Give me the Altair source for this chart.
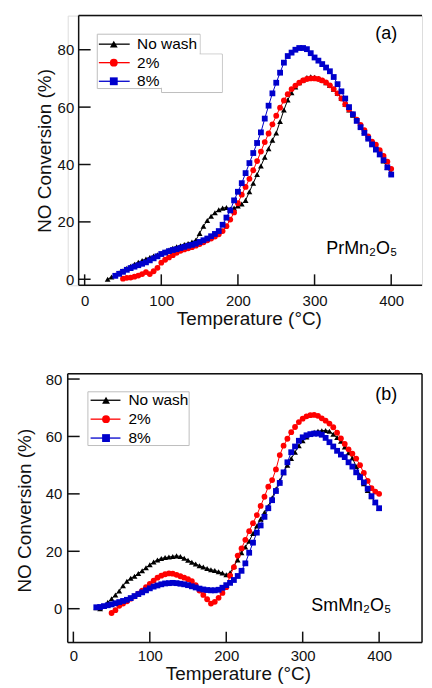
import altair as alt
import pandas as pd

FONT = "Liberation Sans"
SERIES = ["No wash", "2%", "8%"]
COLORS = ["#000000", "#ff0000", "#0000cc"]
SHAPES = ["triangle-up", "circle", "square"]
X_TICKS = [0, 100, 200, 300, 400]
Y_TICKS = [0, 20, 40, 60, 80]

T_GRID = [30, 35, 40, 45, 50, 55, 60, 65, 70, 75, 80, 85, 90, 95, 100, 105, 110, 115,
          120, 125, 130, 135, 140, 145, 150, 155, 160, 165, 170, 175, 180, 185, 190, 195,
          200, 205, 210, 215, 220, 225, 230, 235, 240, 245, 250, 255, 260, 265, 270, 275,
          280, 285, 290, 295, 300, 305, 310, 315, 320, 325, 330, 335, 340, 345, 350, 355,
          360, 365, 370, 375, 380, 385, 390, 395, 400]

# ---------- (a) PrMn2O5 ----------
a_nowash_T = T_GRID
a_nowash_V = [0, 0.8, 1.5, 2.3, 3, 3.8, 4.5, 5.2, 5.9, 6.5,
              7.1, 7.6, 8.1, 8.5, 9, 9.6, 10.2, 10.8, 11.3, 11.7,
              12.1, 12.5, 13, 13.6, 16, 18.5, 20.5, 22, 23.2, 24.2,
              24.8, 25, 24.5, 24.8, 25.5, 26.2, 27.5, 30.5, 33.5, 36.5,
              39.5, 42.5, 45.5, 48.5, 51, 55, 59, 62.5, 65, 67,
              68.5, 69.5, 70.3, 70.6, 70.4, 70, 69.4, 68.5, 67.5, 66.2,
              64.8, 63, 61, 59, 57.2, 55.5, 53.5, 51.5, 49.5, 47.5,
              45.5, 43.5, 41.2, 39, 37]
a_2pct_T = T_GRID[4:]
a_2pct_V = [0.2, 0.5, 0.6, 0.9, 1.3, 1.8, 2.5, 1.8, 2.8, 4,
            5.8, 6.8, 7.6, 8.4, 9.2, 9.9, 10.4, 10.8, 11.2, 11.7,
            12.3, 12.9, 13.6, 14.2, 14.9, 15.7, 16.8, 18.5, 20.8, 23.3,
            26.5, 29.5, 32.2, 35, 38, 41.2, 44.5, 47.8, 50.8, 54,
            57, 59.8, 62.3, 64.5, 66.3, 67.5, 68.5, 69.3, 69.8, 70,
            70, 69.8, 69.3, 68.6, 67.6, 66.3, 64.8, 63, 61, 59.2,
            57.5, 55.6, 53.8, 52, 49.8, 48, 46.9, 45, 43, 41,
            38.5]
a_8pct_T = T_GRID[2:]
a_8pct_V = [1.2, 1.9, 2.6, 3.3, 3.9, 4.4, 4.9, 5.4, 5.9, 6.6,
            7.3, 8, 8.8, 9.3, 9.8, 10.2, 10.5, 10.9, 11.3, 11.7,
            12, 12.4, 13, 13.6, 14.2, 15, 15.8, 16.8, 19, 21.5,
            24, 27.5, 30.5, 33.5, 37, 40.5, 44, 47.5, 51.2, 56,
            60.5, 64.8, 68.5, 72, 75.5, 77.8, 79, 80, 80.6, 80.6,
            80.2, 78.8, 77.3, 76.2, 75, 73.8, 72.5, 70.5, 68, 65.5,
            63, 60, 57.5, 55.2, 53, 51, 49, 47, 45.2, 43.5,
            41.5, 39, 36.5]

# ---------- (b) SmMn2O5 ----------
b_nowash_T = T_GRID
b_nowash_V = [0.3, 0, 0.8, 2.2, 3.5, 4.8, 6.2, 8, 9.6, 10.6,
              11.3, 12.3, 13.2, 14.3, 15.3, 16.3, 17, 17.5, 17.8, 18,
              18.2, 18.4, 18.2, 17.6, 16.9, 16.2, 15.6, 15, 14.5, 14,
              13.6, 13.3, 12.9, 12.4, 11.8, 12.5, 14.8, 17, 19.5, 21.5,
              23.5, 26.2, 28.8, 31.2, 33.5, 35.7, 38.6, 41.6, 44.6, 47.4,
              50, 52.3, 54.5, 56.8, 58.5, 59.8, 60.8, 61.5, 61.8, 62,
              62.1, 61.8, 60.8, 59.6, 58.3, 56.3, 54.3, 52.5, 49.5, 46.5,
              43.5, 41.2, 39, 37, 35]
b_2pct_T = T_GRID[4:]
b_2pct_V = [-1.5, -0.5, 1, 1.8, 2.6, 3.5, 4.3, 5.2, 6.3, 7.5,
            8.6, 9.8, 10.8, 11.5, 12, 12.3, 12.2, 11.8, 11.3, 10.8,
            10.3, 9.6, 8.2, 6.3, 4.8, 3.3, 1.8, 2.4, 3.8, 5.5,
            7.5, 11.5, 14.5, 18.5, 21, 24, 27, 29.8, 32.6, 35.8,
            39, 42.5, 44.8, 48.5, 53.5, 56.8, 59.2, 61.5, 63.3, 65,
            66.2, 67, 67.4, 67.5, 67.2, 66.3, 65.5, 64.5, 63.2, 61.3,
            59.3, 57.4, 55.5, 54, 52.3, 50, 47.3, 44.5, 42, 40.8,
            40]
b_8pct_T = T_GRID
b_8pct_V = [0.5, 0.6, 0.9, 1.2, 1.5, 1.9, 2.3, 2.7, 3.1, 3.7,
            4.4, 5.1, 5.7, 6.4, 7.1, 7.7, 8.1, 8.5, 8.8, 8.9,
            9, 8.9, 8.7, 8.5, 8.2, 7.8, 7.4, 7, 6.7, 6.5,
            6.4, 6.4, 6.6, 7.3, 8.2, 9, 10, 11.4, 13.2, 15.8,
            19.5, 23, 26.5, 29, 32, 35, 37.8, 41, 43.8, 47.5,
            51, 54.5, 56.5, 58.5, 59.7, 60.4, 60.8, 61, 61, 60.6,
            59.5, 58, 56.5, 55, 53.7, 52.8, 51, 49.5, 47.5, 45.8,
            44, 41.8, 39.2, 37, 35]


def long_df(parts):
    rows = []
    for name, T, V in parts:
        for t, v in zip(T, V):
            rows.append({"T": t, "V": v, "series": name})
    return pd.DataFrame(rows)


df_a = long_df([(SERIES[0], a_nowash_T, a_nowash_V),
                (SERIES[1], a_2pct_T, a_2pct_V),
                (SERIES[2], a_8pct_T, a_8pct_V)])
df_b = long_df([(SERIES[0], b_nowash_T, b_nowash_V),
                (SERIES[1], b_2pct_T, b_2pct_V),
                (SERIES[2], b_8pct_T, b_8pct_V)])

INK = "#111111"
ONE = pd.DataFrame({"k": [0]})


def hrule(x1, x2, y, color=INK, w=1.5):
    return alt.Chart(ONE).mark_rule(color=color, strokeWidth=w).encode(
        x=alt.value(x1), x2=alt.value(x2), y=alt.value(y))


def vrule(x, y1, y2, color=INK, w=1.5):
    return alt.Chart(ONE).mark_rule(color=color, strokeWidth=w).encode(
        x=alt.value(x), y=alt.value(y1), y2=alt.value(y2))


def box(x1, x2, y1, y2, stroke=None):
    kw = dict(fill="white")
    if stroke:
        kw.update(stroke=stroke, strokeWidth=1)
    return alt.Chart(ONE).mark_rect(**kw).encode(
        x=alt.value(x1), x2=alt.value(x2), y=alt.value(y1), y2=alt.value(y2))


def legend_layers(rows_y, x1, x2, xm, xt):
    out = []
    for i, (name, col, shp) in enumerate(zip(SERIES, COLORS, SHAPES)):
        d = alt.Chart(pd.DataFrame({"label": [name]}))
        out.append(d.mark_rule(color=col, strokeWidth=1.3).encode(
            x=alt.value(x1), x2=alt.value(x2), y=alt.value(rows_y[i])))
        out.append(d.mark_point(shape=shp, filled=True, color=col, size=62, opacity=1).encode(
            x=alt.value(xm), y=alt.value(rows_y[i])))
        out.append(d.mark_text(align="left", baseline="middle", font=FONT, fontSize=15.5,
                               color="#000000").encode(
            x=alt.value(xt), y=alt.value(rows_y[i]), text="label:N"))
    return out


def label_text(txt, x, y, align):
    return alt.Chart(pd.DataFrame({"s": [txt]})).mark_text(
        align=align, baseline="alphabetic", font=FONT, fontSize=18, color="#000000"
    ).encode(x=alt.value(x), y=alt.value(y), text="s:N")


def panel(df, W, H, xdom, ydom, fx0, yoff, ylab_pad, xlab_pad, ytx, yty, xtx, xty,
          frame_layers, legend_box, legend, tag, comp):
    xs = alt.Scale(domain=xdom, nice=False, zero=False)
    ys = alt.Scale(domain=ydom, nice=False, zero=False)
    cs = alt.Scale(domain=SERIES, range=COLORS)
    ss = alt.Scale(domain=SERIES, range=SHAPES)
    xaxis = alt.Axis(values=X_TICKS, domain=False, ticks=False, tickSize=0, grid=False,
                     labelFont=FONT, labelFontSize=15, labelColor=INK, labelPadding=xlab_pad,
                     labelBaseline="alphabetic", labelFlush=False,
                     title="Temperature (°C)", titleFont=FONT, titleFontSize=19,
                     titleFontWeight="normal", titleColor=INK, titleX=xtx, titleY=xty,
                     titleAlign="center", titleBaseline="alphabetic")
    yaxis = alt.Axis(values=Y_TICKS, domain=False, ticks=False, tickSize=0, grid=False,
                     offset=yoff, labelFont=FONT, labelFontSize=15, labelColor=INK,
                     labelPadding=ylab_pad, labelBaseline="middle",
                     title="NO Conversion (%)", titleFont=FONT, titleFontSize=19,
                     titleFontWeight="normal", titleColor=INK, titleX=ytx, titleY=yty,
                     titleAngle=270, titleAlign="center", titleBaseline="alphabetic")
    base = alt.Chart(df)
    lines = base.mark_line(strokeWidth=1).encode(
        x=alt.X("T:Q", scale=xs, axis=xaxis),
        y=alt.Y("V:Q", scale=ys, axis=yaxis),
        color=alt.Color("series:N", scale=cs, legend=None),
        detail="series:N",
        order=alt.Order("T:Q"))
    pts = base.mark_point(filled=True, size=34, opacity=1).encode(
        x=alt.X("T:Q", scale=xs, axis=xaxis),
        y=alt.Y("V:Q", scale=ys, axis=yaxis),
        color=alt.Color("series:N", scale=cs, legend=None),
        shape=alt.Shape("series:N", scale=ss, legend=None))
    xt = alt.Chart(pd.DataFrame({"T": X_TICKS})).mark_rule(color=INK, strokeWidth=1.5).encode(
        x=alt.X("T:Q", scale=xs, axis=xaxis), y=alt.value(H), y2=alt.value(H - 11))
    yt = alt.Chart(pd.DataFrame({"V": Y_TICKS})).mark_rule(color=INK, strokeWidth=1.5).encode(
        y=alt.Y("V:Q", scale=ys, axis=yaxis), x=alt.value(fx0), x2=alt.value(fx0 + 12))
    layers = [lines, pts] + legend_box + legend + [tag, comp, xt, yt] + frame_layers
    return alt.layer(*layers).properties(width=W, height=H)


WA, HA = 356, 271
pa = panel(
    df_a, WA, HA, [-22.1, 440.2], [-2.1, 91.9],
    fx0=11, yoff=-11, ylab_pad=5, xlab_pad=20, ytx=-28.7, yty=135.5, xtx=182, xty=39,
    frame_layers=[vrule(11, 0, HA), hrule(11, WA, 0), hrule(11, WA, HA)],
    legend_box=[box(29.7, 133, 18.7, 73.3, "#bdbdbd"), box(94.3, 155.3, 38.7, 77.3, "#bdbdbd"),
                box(30.5, 132.5, 19.5, 72.5), box(94.8, 154.8, 39.2, 76.8)],
    legend=legend_layers([28.7, 47.3, 66], 31.3, 62.3, 46.3, 69.7),
    tag=label_text("(a)", 320, 24, "center"),
    comp=label_text("PrMn₂O₅", 331, 239.7, "right"),
)

WB, HB = 356, 270
pb = panel(
    df_b, WB, HB, [-7.4, 456.1], [-11.8, 81.8],
    fx0=0, yoff=0, ylab_pad=6, xlab_pad=18, ytx=-37.7, yty=137, xtx=171, xty=37,
    frame_layers=[vrule(0, 0, HB), vrule(WB, 0, HB), hrule(0, WB, 0), hrule(0, WB, HB)],
    legend_box=[box(20.3, 122, 18, 72, "#bdbdbd")],
    legend=legend_layers([26.5, 45.5, 64.5], 23, 53, 38.5, 61),
    tag=label_text("(b)", 320, 26.5, "center"),
    comp=label_text("SmMn₂O₅", 325, 238.7, "right"),
)

chart = alt.vconcat(pa, pb, spacing=42).properties(
    padding={"left": 6, "top": 4, "right": 0, "bottom": 0}
).configure_view(stroke=None).configure(background="white")

chart.save("out.html", embed_options={"renderer": "svg", "actions": False})
